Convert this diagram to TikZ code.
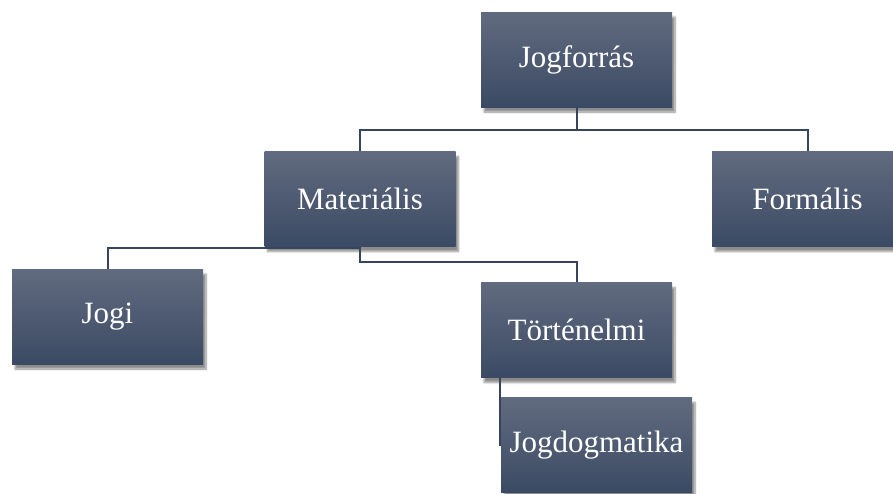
\documentclass[tikz,border=0pt]{standalone}
\usepackage{fontspec}
\setmainfont{Liberation Serif}
\usepackage{tikz}
\usetikzlibrary{positioning, shadows.blur}
\definecolor{boxtop}{RGB}{97,107,127}
\definecolor{boxbot}{RGB}{59,74,100}
\definecolor{linec}{RGB}{55,68,92}

\begin{document}
\begin{tikzpicture}[x=1pt, y=1pt, node distance=139.5pt,
    box/.style={rectangle, minimum width=191pt, minimum height=95pt, inner sep=0pt,
      top color=boxtop, bottom color=boxbot, text=white,
      font=\fontsize{31}{37}\selectfont,
      blur shadow={shadow xshift=3pt, shadow yshift=-5pt, shadow blur steps=8, shadow opacity=45}},
    conn/.style={draw=linec, line width=2pt}]
      \useasboundingbox (0,0) rectangle (893,-493);

      \node[box] (jf) at (576.5,-59.5) {Jogforrás};
      \node[box, below of=jf, xshift=-216.5pt] (mat) {Materiális};
      \node[box, below of=jf, xshift=231pt] (form) {Formális};

      \node[box, below of=mat, xshift=-252.5pt, yshift=22pt] (jogi) {Jogi};
      \node[box, below of=mat, xshift=216.5pt, yshift=8.5pt] (tort) {Történelmi};
      \node[box, below of=tort, xshift=20pt, yshift=24.5pt] (jd) {Jogdogmatika};


      \draw[conn] (jf.south) -- ++(0,-23pt) -| (mat.north);
      \draw[conn] (jf.south) -- ++(0,-23pt) -| (form.north);

      \draw[conn] (mat.south) -- ++(0,-1pt) -| (jogi.north);
      \draw[conn] (mat.south) -- ++(0,-15pt) -| (tort.north);


      \draw[conn] ([xshift=19pt]tort.south west) |- (jd.west);
    \end{tikzpicture}
\end{document}
